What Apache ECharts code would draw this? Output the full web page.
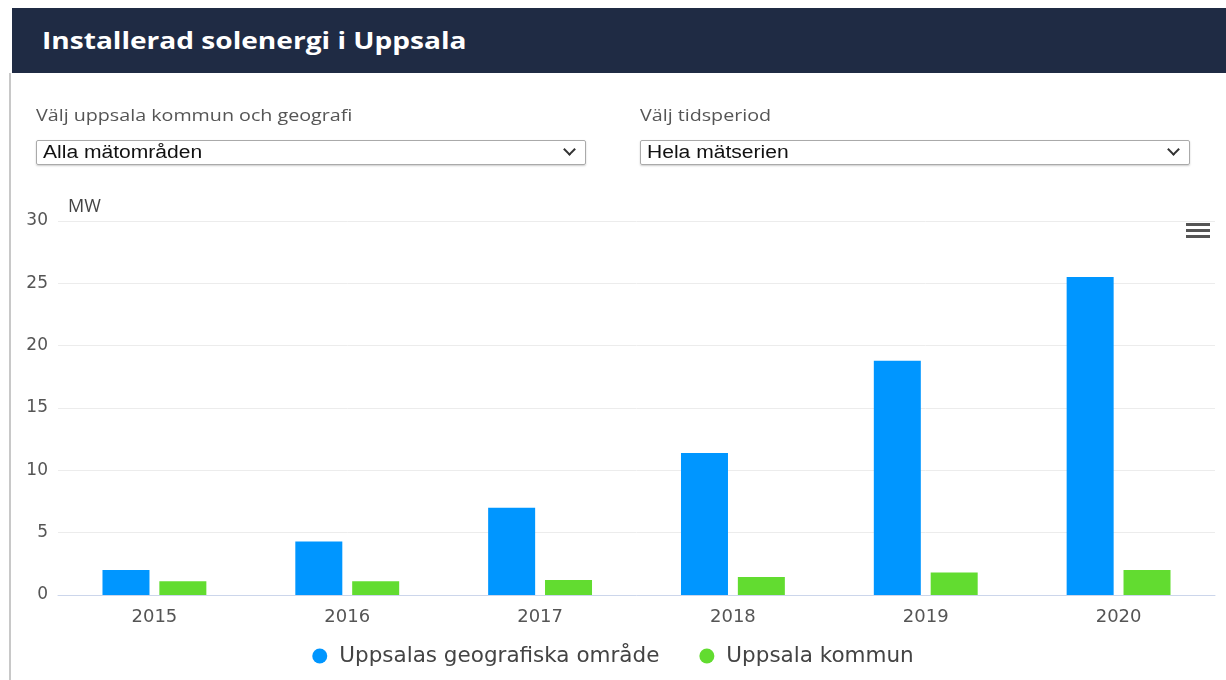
<!DOCTYPE html>
<html>
<head>
<meta charset="utf-8">
<script src="https://cdn.jsdelivr.net/npm/echarts@6/dist/echarts.min.js"></script>
<style>
html,body{margin:0;padding:0;width:1226px;height:680px;background:#fff;overflow:hidden;}
#header{position:absolute;left:12px;top:8px;width:1214px;height:65px;background:#1f2b44;}
#header span{position:absolute;left:30px;top:15px;color:#fff;font-family:"Open Sans",Lato,sans-serif;font-weight:700;font-size:24px;transform:scaleX(1.17);transform-origin:0 0;white-space:nowrap;}
#border{position:absolute;left:9px;top:73px;width:2px;height:607px;background:#c8c8c8;}
.lbl{position:absolute;font-family:"Open Sans",Lato,sans-serif;font-size:16px;color:#555;transform:scaleX(1.23);transform-origin:0 0;white-space:nowrap;}
.sel{position:absolute;height:25px;border:1px solid #aaa;border-radius:2px;box-shadow:0 1px 2px #ccc;font-family:"Liberation Sans",Arial,sans-serif;color:#111;box-sizing:border-box;padding-left:6px;line-height:23px;}
.sel b{font-weight:400;font-size:18px;display:inline-block;transform:scaleX(1.17);transform-origin:0 0;white-space:nowrap;}
.sel i{position:absolute;right:11px;top:4px;width:7px;height:7px;border-right:2px solid #333;border-bottom:2px solid #333;transform:rotate(45deg);}
#chart{position:absolute;left:0;top:0;width:1226px;height:680px;}
</style>
</head>
<body>
<div id="chart"></div>
<div id="header"><span>Installerad solenergi i Uppsala</span></div>
<div id="border"></div>
<div class="lbl" style="left:36px;top:104px;">Välj uppsala kommun och geografi</div>
<div class="sel" style="left:36px;top:140px;width:550px;"><b>Alla mätområden</b><i></i></div>
<div class="lbl" style="left:640px;top:104px;">Välj tidsperiod</div>
<div class="sel" style="left:640px;top:140px;width:550px;"><b>Hela mätserien</b><i></i></div>
<script>
const categories = ['2015','2016','2017','2018','2019','2020'];
const geografiska = [2.0, 4.3, 7.0, 11.4, 18.8, 25.5];
const kommun = [1.1, 1.1, 1.2, 1.45, 1.8, 2.0];
const yTicks = [0, 5, 10, 15, 20, 25, 30];

const chart = echarts.init(document.getElementById('chart'));
const axisFont = 'DejaVu Sans';
chart.setOption({
  animation: false,
  grid: {left: 58, right: 11, top: 221, bottom: 85},
  legend: {
    bottom: 8, left: 'center', itemGap: 40,
    icon: 'circle', itemWidth: 15, itemHeight: 15,
    textStyle: {fontFamily: axisFont, fontSize: 21.5, color: '#444', padding: [0, 0, 0, 7]},
    data: ['Uppsalas geografiska område', 'Uppsala kommun']
  },
  xAxis: {
    type: 'category', data: categories,
    axisLine: {lineStyle: {color: '#ccd6eb', width: 1}},
    axisTick: {show: false},
    axisLabel: {fontFamily: axisFont, fontSize: 18, color: '#555', margin: 13}
  },
  yAxis: {
    type: 'value', min: yTicks[0], max: yTicks[yTicks.length-1], interval: 5,
    name: 'MW', nameLocation: 'end', nameGap: 5,
    nameTextStyle: {fontFamily: 'Open Sans', fontSize: 18, color: '#444', align: 'left', padding: [0,0,0,10]},
    axisLine: {show: false}, axisTick: {show: false},
    axisLabel: {fontFamily: axisFont, fontSize: 17, color: '#555', margin: 10, align: 'right'},
    splitLine: {lineStyle: {color: '#ececec', width: 1}}
  },
  graphic: [
    {type: 'rect', right: 16, top: 223, shape: {width: 24, height: 3}, style: {fill: '#555'}},
    {type: 'rect', right: 16, top: 229, shape: {width: 24, height: 3}, style: {fill: '#555'}},
    {type: 'rect', right: 16, top: 235, shape: {width: 24, height: 3}, style: {fill: '#555'}}
  ],
  series: [
    {name: 'Uppsalas geografiska område', type: 'bar', data: geografiska, barWidth: 47, barGap: '21%',
     itemStyle: {color: '#0096ff'}},
    {name: 'Uppsala kommun', type: 'bar', data: kommun, barWidth: 47,
     itemStyle: {color: '#62dc30'}}
  ]
});
</script>
</body>
</html>
